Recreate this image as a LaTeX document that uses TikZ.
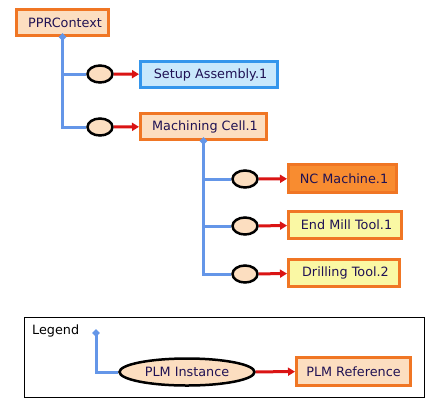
\documentclass[tikz,border=0pt]{standalone}
\usepackage{fontspec}
\setmainfont{DejaVu Sans}
\usetikzlibrary{arrows.meta,shapes.geometric}
\definecolor{peach}{RGB}{252,222,192}
\definecolor{orngline}{RGB}{240,118,36}
\definecolor{skyfill}{RGB}{200,232,252}
\definecolor{skyline}{RGB}{52,150,236}
\definecolor{orngfill}{RGB}{248,140,48}
\definecolor{yelfill}{RGB}{250,248,164}
\definecolor{txt}{RGB}{32,18,84}
\definecolor{treeblue}{RGB}{100,150,232}
\definecolor{relred}{RGB}{218,20,20}
\begin{document}
\begin{tikzpicture}[x=1pt,y=-1pt,
    every node/.style={font=\fontsize{12.8}{14}\selectfont,text=txt,inner sep=0pt},
    refbox/.style={draw=orngline,line width=3pt,fill=peach},
    inst/.style={ellipse,draw=black,line width=2.5pt,fill=peach,minimum width=25pt,minimum height=17pt},
    bdot/.style={diamond,fill=treeblue,minimum size=8pt},
    tree/.style={draw=treeblue,line width=3pt},
    rel/.style={draw=relred,line width=3pt,-{Triangle[length=7pt,width=8pt]}}]
  \useasboundingbox (0,0) rectangle (436,413);
  % references
  \node[refbox,minimum width=92pt,minimum height=26pt] (ppr) at (62.5,22.5) {\hspace{5pt}PPRContext};
  \node[refbox,draw=skyline,fill=skyfill,minimum width=137pt,minimum height=26pt] (setup) at (209,74.5) {\hspace{3pt}Setup Assembly.1};
  \node[refbox,minimum width=126pt,minimum height=26pt] (cell) at (203.5,126.5) {\hspace{3pt}Machining Cell.1};
  \node[refbox,fill=orngfill,minimum width=108pt,minimum height=28pt] (nc) at (342.5,178.5) {\hspace{3pt}NC Machine.1};
  \node[refbox,fill=yelfill,minimum width=113pt,minimum height=27pt] (mill) at (345,225) {\hspace{3pt}End Mill Tool.1};
  \node[refbox,fill=yelfill,minimum width=111pt,minimum height=27pt] (drill) at (344,273) {\hspace{3pt}Drilling Tool.2};
  % instances
  \node[inst] (i1) at (100,74) {};
  \node[inst] (i2) at (100,127) {};
  \node[inst] (i3) at (245,179) {};
  \node[inst] (i4) at (245,226) {};
  \node[inst] (i5) at (245,274) {};
  % tree
  \path[tree] (ppr.south) |- (i1.west);
  \path[tree] (ppr.south) |- (i2.west);
  \path[tree] (cell.south) |- (i3.west);
  \path[tree] (cell.south) |- (i4.west);
  \path[tree] (cell.south) |- (i5.west);
  \node[bdot] (d1) at (ppr.south) {};
  \node[bdot] (d2) at (cell.south) {};
  \path[rel] (i1) -- (setup);
  \path[rel] (i2) -- (cell);
  \path[rel] (i3) -- (nc);
  \path[rel] (i4) -- (mill);
  \path[rel] (i5) -- (drill);
  % legend
  \draw[line width=1pt] (24,317) rectangle (424,397);
  \node[anchor=west,text=black] (lg) at (32,331) {Legend};
  \node[inst,minimum width=135pt,minimum height=27pt] (li) at (187,372) {PLM Instance};
  \node[refbox,minimum width=114pt,minimum height=28pt] (lr) at (353.5,371.5) {PLM Reference};
  \node[bdot] (ld) at (96,333) {};
  \path[tree] (ld.center) |- (li.west);
  \path[rel] (li) -- (lr);
\end{tikzpicture}
\end{document}
